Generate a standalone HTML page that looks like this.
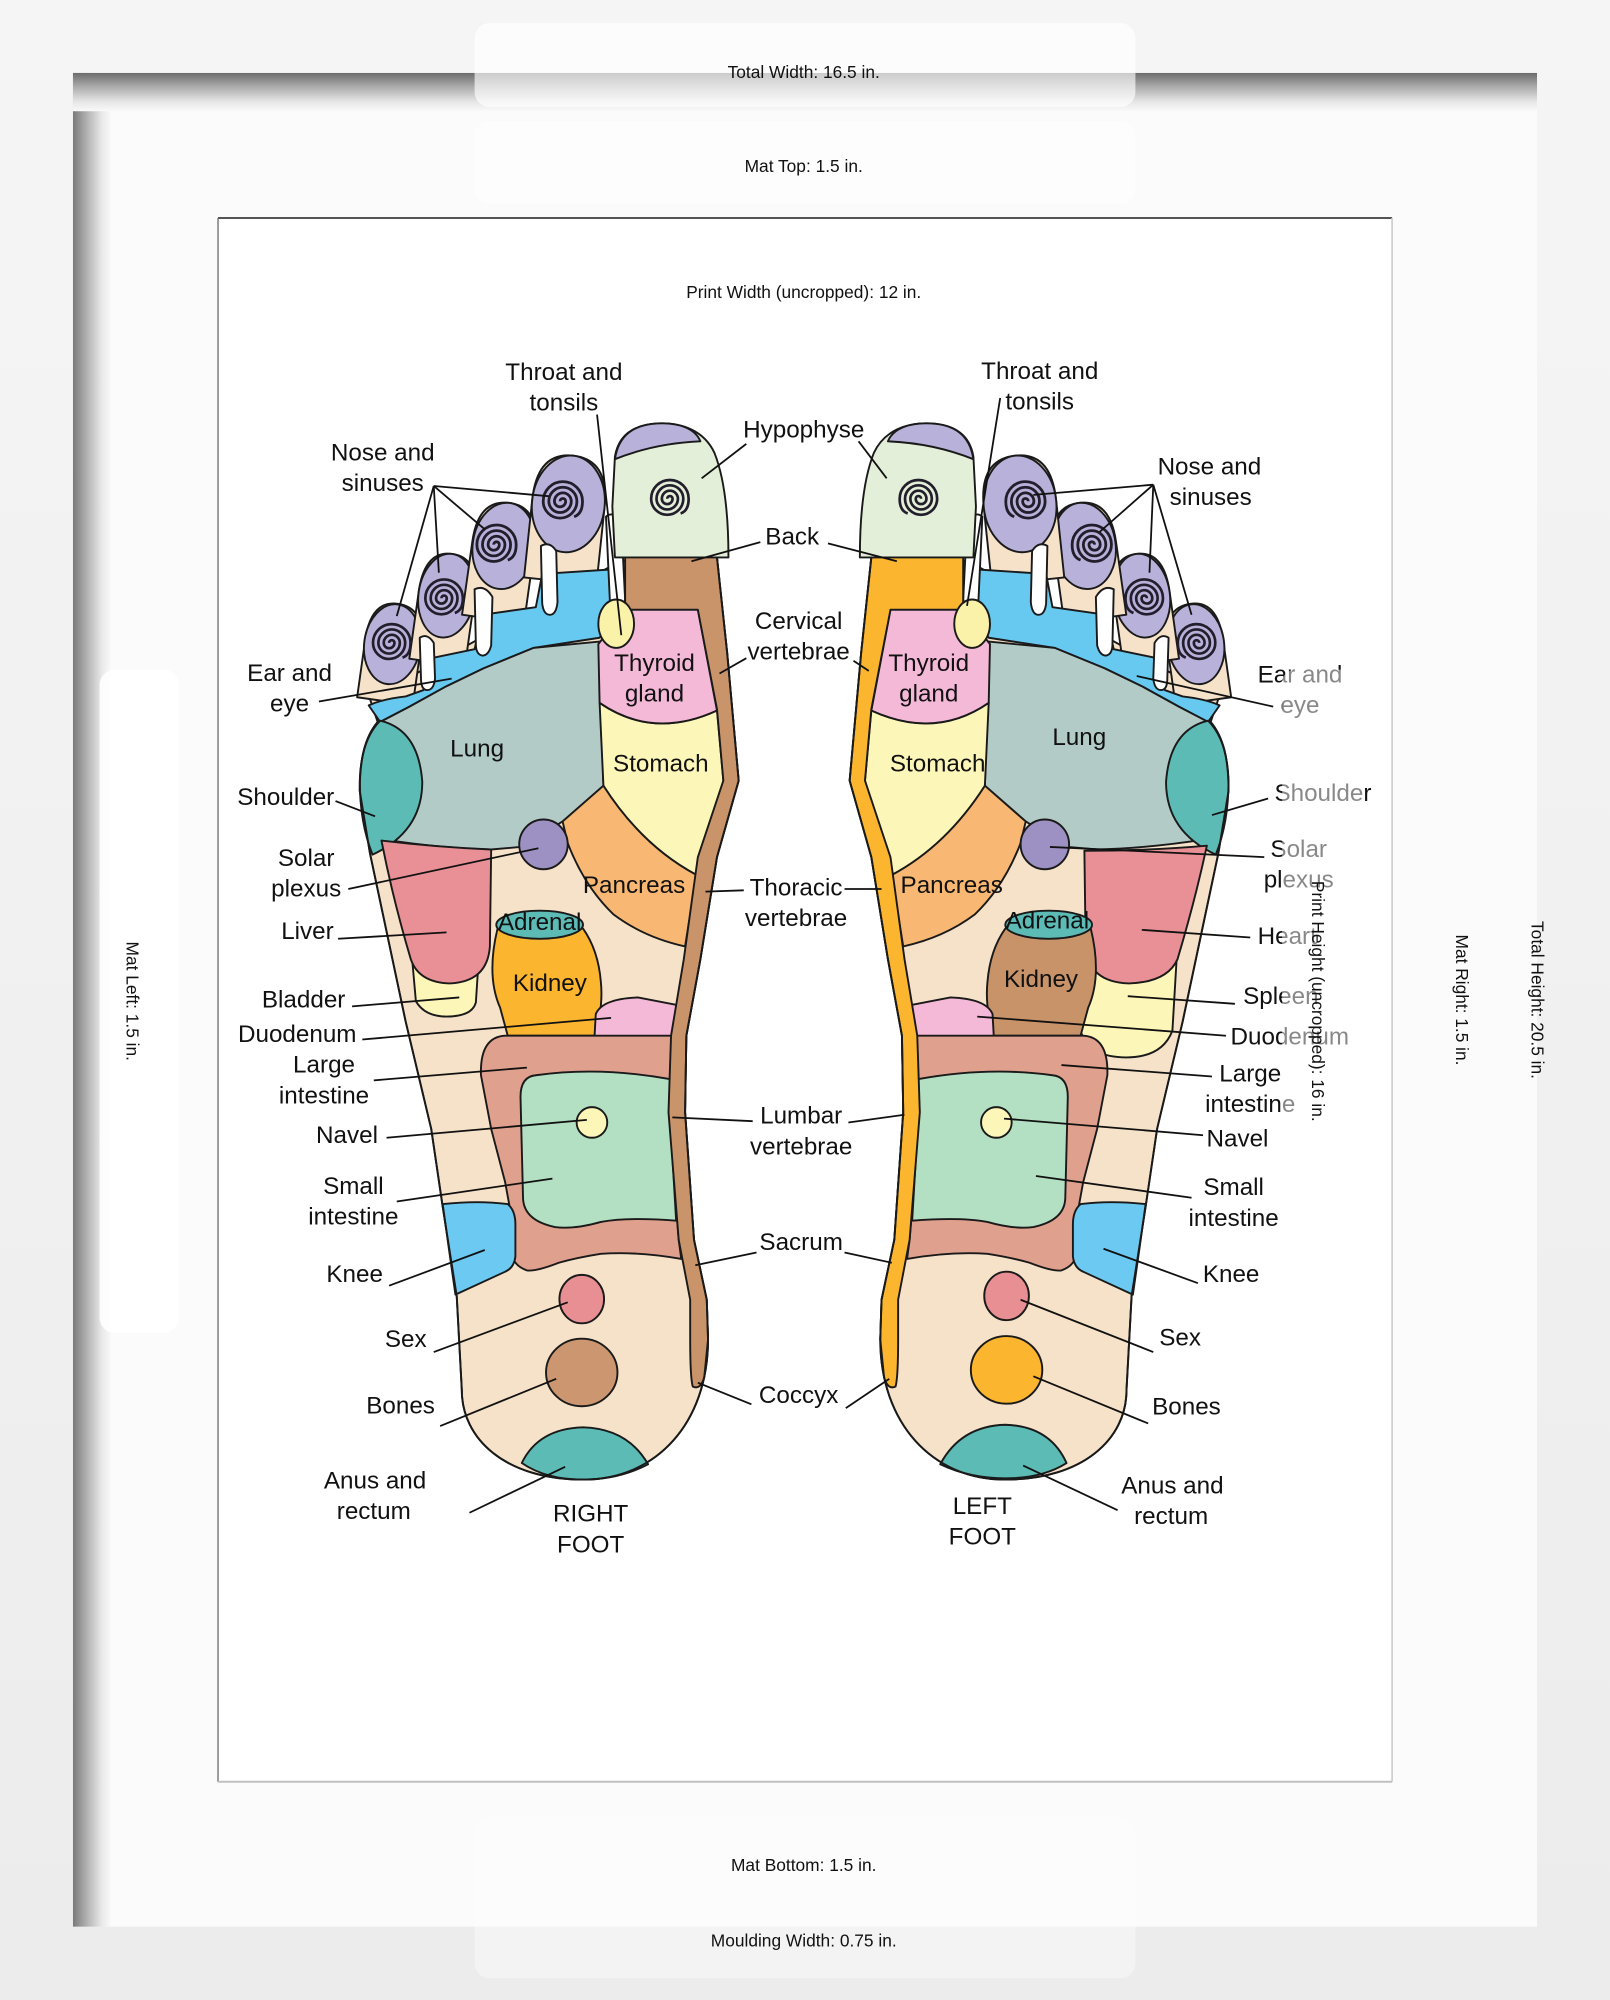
<!DOCTYPE html>
<html><head><meta charset="utf-8">
<style>
html,body{margin:0;padding:0;background:#f2f2f2;}
svg{display:block;}
text{font-family:"Liberation Sans",Arial,sans-serif;fill:#111;}
.lb{font-size:19px;text-anchor:middle;}
.fr{font-size:13.6px;text-anchor:middle;}
</style></head><body>
<svg width="1610" height="2000" viewBox="0 0 1262 1568" preserveAspectRatio="none" xmlns="http://www.w3.org/2000/svg">
<defs>
<linearGradient id="bg" x1="0" y1="0" x2="0" y2="1"><stop offset="0" stop-color="#f5f5f5"/><stop offset="1" stop-color="#ececec"/></linearGradient>
<linearGradient id="tsh" x1="0" y1="0" x2="0" y2="1"><stop offset="0" stop-color="#6c6c6c"/><stop offset="0.35" stop-color="#a9a9a9"/><stop offset="0.75" stop-color="#e6e6e6"/><stop offset="1" stop-color="#fafafa"/></linearGradient>
<linearGradient id="lsh" x1="0" y1="0" x2="1" y2="0"><stop offset="0" stop-color="#7a7a7a"/><stop offset="0.35" stop-color="#b0b0b0"/><stop offset="0.75" stop-color="#e8e8e8"/><stop offset="1" stop-color="#fafafa"/></linearGradient>
<path id="sp" d="M0,0 A2,2 0 0 1 4,0 A4,4 0 0 1 -4,0 A6,6 0 0 1 8,0 A8,8 0 0 1 -8,0 A10,10 0 0 1 12,0 A12,12 0 0 1 -12,0 A14,14 0 0 1 16,0 Q16,9 10,11" fill="none" stroke="#231e2b" stroke-width="2"/>
</defs>

<!-- frame -->
<rect width="1262" height="1568" fill="url(#bg)"/>
<rect x="57.2" y="57.2" width="1147.6" height="1453.3" fill="#fbfbfb"/>
<rect x="57.2" y="57.2" width="30" height="1453.3" fill="url(#lsh)"/>
<rect x="57.2" y="57.2" width="1147.6" height="30" fill="url(#tsh)"/>
<rect x="372" y="18" width="518" height="66" rx="12" fill="#fff" fill-opacity="0.65"/>
<rect x="372" y="95" width="518" height="65" rx="12" fill="#fff" fill-opacity="0.5"/>
<rect x="78" y="525" width="62" height="520" rx="12" fill="#fff" fill-opacity="0.85"/>
<rect x="372" y="1425" width="518" height="126" rx="12" fill="#fff" fill-opacity="0.4"/>

<!-- print area -->
<rect x="170.9" y="170.9" width="920.3" height="1226" fill="#fff"/>
<line x1="170.9" y1="170.9" x2="1091.2" y2="170.9" stroke="#555" stroke-width="1.6"/>
<line x1="170.9" y1="170.9" x2="170.9" y2="1396.9" stroke="#666" stroke-width="1"/>
<line x1="1091.2" y1="170.9" x2="1091.2" y2="1396.9" stroke="#d0d0d0" stroke-width="1.4"/>
<line x1="170.9" y1="1396.9" x2="1091.2" y2="1396.9" stroke="#c0c0c0" stroke-width="1.6"/>

<!-- RIGHT FOOT -->
<g stroke="#1a1a1a" stroke-width="1.5" stroke-linejoin="round">
<path fill="#f6e2c9" d="M290,548 L486,440 L562,437 L570,512 L579,612 L562,672 L549,752 L538,812 L537,872 L544,972 L554,1019 L555,1050 C555,1115 515,1160 457,1160 C396,1160 362,1128 362,1090 L358,1016 L347,946 L338,885 L318,801 L290,669 L282,620 C282,595 286,578 296,566 Z"/>
<g transform="rotate(8 307 505)"><path fill="#f6e2c9" d="M286,550 L286,505 Q286,473 307.5,473 Q330,473 330,505 L330,550 Z"/><ellipse fill="#b8b1d9" cx="307.5" cy="505" rx="22" ry="31.5"/></g>
<g transform="rotate(8 350 467)"><path fill="#f6e2c9" d="M328,520 L328,467 Q328,434 350,434 Q372,434 372,467 L372,520 Z"/><ellipse fill="#b8b1d9" cx="350" cy="467" rx="22" ry="33"/></g>
<g transform="rotate(8 395 428)"><path fill="#f6e2c9" d="M370,486 L370,428 Q370,394 395,394 Q419,394 419,428 L419,486 Z"/><ellipse fill="#b8b1d9" cx="395" cy="428" rx="24.5" ry="34"/></g>
<g transform="rotate(6 445 395)"><path fill="#f6e2c9" d="M417,456 L417,395 Q417,357 445,357 Q474,357 474,395 L474,456 Z"/><ellipse fill="#b8b1d9" cx="445.5" cy="395" rx="28.5" ry="38"/></g>
<path fill="#68c9f0" d="M289,553 Q300,548 318,546 L332,541 L338,516 L372,509 L378,482 L420,476 L425,450 L486,446 L487,472 L470,500 L418,508 L379,524 L350,538 L321,554 L298,566 Z"/>
<path fill="#fff" d="M329,500 Q335,496 340,504 L341,532 Q340,541 335,541 Q330,541 330,532 Z"/>
<path fill="#fff" d="M372,462 Q380,458 386,468 L385,506 Q383,514 378,514 Q373,513 373,505 Z"/>
<path fill="#fff" d="M424,428 Q431,424 436,432 L437,472 Q436,482 431,482 Q426,482 425,473 Z"/>
<path fill="#fff" d="M475,405 Q481,400 487,410 L490,470 Q489,478 484,478 Q479,478 478,470 Z"/>
<path fill="#e3efd8" d="M482,437 L480,397 L482,358 C485,340 498,333 515,332 C535,331 552,338 560,355 C568,375 571,405 571,437 Z"/>
<path fill="#b8b1d9" d="M482,360 C485,340 498,333 515,332 C532,331 545,336 549,346 C525,347 502,352 482,360 Z"/>
<path fill="#b3cbc7" d="M470,503 L418,508 L379,524 L350,538 L321,554 L298,566 L290,600 L292,640 L300,658 Q345,665 385,666 L408,664 L441,644 L473,616 Z"/>
<path fill="#5dbbb6" d="M298,565 Q328,572 331,613 Q331,652 292,670 Q282,645 282,612 Q283,580 298,565 Z"/>
<path fill="#fdf6b9" d="M322,740 L326,785 Q333,797 350,797 Q370,797 373,786 L376,740 Z"/>
<path fill="#e89096" d="M299,659 Q340,664 385,666 L384,742 Q382,770 352,771 Q328,770 322,752 Q308,705 299,659 Z"/>
<path fill="#fdf6b9" d="M470,551 Q512,580 562,557 L567,612 L558,650 L546,686 Q503,663 473,616 Z"/>
<path fill="#f5b9d8" d="M490,478 L547,478 L562,557 Q512,580 470,551 L469,505 Z"/>
<path fill="#f8b873" d="M441,644 L473,616 Q503,663 546,686 L537,742 Q505,735 481,717 Q458,695 445,661 Z"/>
<ellipse fill="#9d91c3" cx="426" cy="662" rx="19" ry="19.5"/>
<path fill="#fbb52e" d="M390,728 Q381,765 392,790 L398,812 L466,812 Q473,790 471,770 Q469,745 457,728 Z"/>
<ellipse fill="#5dbbb6" cx="423" cy="725" rx="34" ry="11"/>
<path fill="#f5b9d8" d="M466,813 L467,795 Q472,783 500,782 L531,788 L527,813 Z"/>
<path fill="#e0a08e" d="M396,812 L527,812 L524,872 L532,972 L534,987 Q500,981 471,983 Q452,986 438,990 Q420,997 413,996 Q402,992 401,982 L402,960 L396,927 L385,885 L377,843 Q376,813 396,812 Z"/>
<path fill="#b3dfc3" d="M420,843 Q470,836 525,846 L525,872 L530,957 Q492,954 471,958 Q450,964 435,962 Q411,957 410,940 L408,860 Q408,844 420,843 Z"/>
<circle fill="#fdf6b9" cx="464" cy="880" r="12"/>
<path fill="#6ccaf2" d="M347,944 Q375,941 398,944 Q404,949 404,960 L404,985 Q403,994 396,997 L357,1015 L352,980 Z"/>
<ellipse fill="#e88f94" cx="456" cy="1018.5" rx="17.5" ry="19"/>
<ellipse fill="#cc9670" cx="456" cy="1076" rx="28" ry="26.5"/>
<path fill="#5dbbb6" d="M409,1147 Q422,1120 457,1119 Q492,1120 508,1148 Q485,1160 457,1160 Q428,1160 409,1147 Z"/>
<path fill="#c99469" d="M490,437 L562,437 L570,512 L579,612 L562,672 L549,752 L538,812 L537,872 L544,972 L554,1019 L555,1050 L552,1080 Q549,1090 543,1087 Q541,1080 541,1050 L541,1019 L532,972 L524,872 L526,812 L536,752 L547,672 L567,612 L562,556 L547,478 L490,478 Z"/>
<ellipse fill="#fbf2a9" cx="483" cy="489" rx="14" ry="19"/>
<path fill="none" d="M562,437 L570,512 L579,612 L562,672 L549,752 L538,812 L537,872 L544,972 L554,1019 L555,1050 C555,1115 515,1160 457,1160 C396,1160 362,1128 362,1090 L358,1016 L347,946 L338,885 L318,801 L290,669 L282,620 C282,595 286,578 296,566"/>
<use href="#sp" transform="translate(523,391) scale(1.05)"/>
<use href="#sp" transform="translate(439,393) scale(1.1)"/>
<use href="#sp" transform="translate(387,427) scale(1.1)"/>
<use href="#sp" transform="translate(346,469) scale(1.05)"/>
<use href="#sp" transform="translate(305,504) scale(1.05)"/>
</g>

<!-- LEFT FOOT (mirrored) -->
<g transform="matrix(-1,0,0,1,1245,0)" stroke="#1a1a1a" stroke-width="1.5" stroke-linejoin="round">
<path fill="#f6e2c9" d="M290,548 L486,440 L562,437 L570,512 L579,612 L562,672 L549,752 L538,812 L537,872 L544,972 L554,1019 L555,1050 C555,1115 515,1160 457,1160 C396,1160 362,1128 362,1090 L358,1016 L347,946 L338,885 L318,801 L290,669 L282,620 C282,595 286,578 296,566 Z"/>
<g transform="rotate(8 307 505)"><path fill="#f6e2c9" d="M286,550 L286,505 Q286,473 307.5,473 Q330,473 330,505 L330,550 Z"/><ellipse fill="#b8b1d9" cx="307.5" cy="505" rx="22" ry="31.5"/></g>
<g transform="rotate(8 350 467)"><path fill="#f6e2c9" d="M328,520 L328,467 Q328,434 350,434 Q372,434 372,467 L372,520 Z"/><ellipse fill="#b8b1d9" cx="350" cy="467" rx="22" ry="33"/></g>
<g transform="rotate(8 395 428)"><path fill="#f6e2c9" d="M370,486 L370,428 Q370,394 395,394 Q419,394 419,428 L419,486 Z"/><ellipse fill="#b8b1d9" cx="395" cy="428" rx="24.5" ry="34"/></g>
<g transform="rotate(6 445 395)"><path fill="#f6e2c9" d="M417,456 L417,395 Q417,357 445,357 Q474,357 474,395 L474,456 Z"/><ellipse fill="#b8b1d9" cx="445.5" cy="395" rx="28.5" ry="38"/></g>
<path fill="#68c9f0" d="M289,553 Q300,548 318,546 L332,541 L338,516 L372,509 L378,482 L420,476 L425,450 L486,446 L487,472 L470,500 L418,508 L379,524 L350,538 L321,554 L298,566 Z"/>
<path fill="#fff" d="M329,500 Q335,496 340,504 L341,532 Q340,541 335,541 Q330,541 330,532 Z"/>
<path fill="#fff" d="M372,462 Q380,458 386,468 L385,506 Q383,514 378,514 Q373,513 373,505 Z"/>
<path fill="#fff" d="M424,428 Q431,424 436,432 L437,472 Q436,482 431,482 Q426,482 425,473 Z"/>
<path fill="#fff" d="M475,405 Q481,400 487,410 L490,470 Q489,478 484,478 Q479,478 478,470 Z"/>
<path fill="#e3efd8" d="M482,437 L480,397 L482,358 C485,340 498,333 515,332 C535,331 552,338 560,355 C568,375 571,405 571,437 Z"/>
<path fill="#b8b1d9" d="M482,360 C485,340 498,333 515,332 C532,331 545,336 549,346 C525,347 502,352 482,360 Z"/>
<path fill="#b3cbc7" d="M470,503 L418,508 L379,524 L350,538 L321,554 L298,566 L290,600 L292,640 L300,658 Q345,665 385,666 L408,664 L441,644 L473,616 Z"/>
<path fill="#5dbbb6" d="M298,565 Q328,572 331,613 Q331,652 292,670 Q282,645 282,612 Q283,580 298,565 Z"/>
<path fill="#fdf6b9" d="M322,740 L326,808 Q334,829 362,829 Q392,829 398,808 L398,740 Z"/>
<path fill="#e89096" d="M299,663 Q345,667 395,667 L394,742 Q392,770 360,771 Q330,770 322,752 Q308,705 299,663 Z"/>
<path fill="#fdf6b9" d="M470,551 Q512,580 562,557 L567,612 L558,650 L546,686 Q503,663 473,616 Z"/>
<path fill="#f5b9d8" d="M490,478 L547,478 L562,557 Q512,580 470,551 L469,505 Z"/>
<path fill="#f8b873" d="M441,644 L473,616 Q503,663 546,686 L537,742 Q505,735 481,717 Q458,695 445,661 Z"/>
<ellipse fill="#9d91c3" cx="426" cy="662" rx="19" ry="19.5"/>
<path fill="#c9936a" d="M390,728 Q381,765 392,790 L398,812 L466,812 Q473,790 471,770 Q469,745 457,728 Z"/>
<ellipse fill="#5dbbb6" cx="423" cy="725" rx="34" ry="11"/>
<path fill="#f5b9d8" d="M466,813 L467,795 Q472,783 500,782 L531,788 L527,813 Z"/>
<path fill="#e0a08e" d="M396,812 L527,812 L524,872 L532,972 L534,987 Q500,981 471,983 Q452,986 438,990 Q420,997 413,996 Q402,992 401,982 L402,960 L396,927 L385,885 L377,843 Q376,813 396,812 Z"/>
<path fill="#b3dfc3" d="M420,843 Q470,836 525,846 L525,872 L530,957 Q492,954 471,958 Q450,964 435,962 Q411,957 410,940 L408,860 Q408,844 420,843 Z"/>
<circle fill="#fdf6b9" cx="464" cy="880" r="12"/>
<path fill="#6ccaf2" d="M347,944 Q375,941 398,944 Q404,949 404,960 L404,985 Q403,994 396,997 L357,1015 L352,980 Z"/>
<ellipse fill="#e88f94" cx="456" cy="1016" rx="17.5" ry="19"/>
<ellipse fill="#fbb52e" cx="456" cy="1074" rx="28" ry="26.5"/>
<path fill="#5dbbb6" d="M409,1147 Q422,1118 457,1117 Q492,1118 508,1148 Q485,1159 457,1159 Q428,1159 409,1147 Z"/>
<path fill="#fbb52e" d="M490,437 L562,437 L570,512 L579,612 L562,672 L549,752 L538,812 L537,872 L544,972 L554,1019 L555,1050 L552,1080 Q549,1090 543,1087 Q541,1080 541,1050 L541,1019 L532,972 L524,872 L526,812 L536,752 L547,672 L567,612 L562,556 L547,478 L490,478 Z"/>
<ellipse fill="#fbf2a9" cx="483" cy="489" rx="14" ry="19"/>
<path fill="none" d="M562,437 L570,512 L579,612 L562,672 L549,752 L538,812 L537,872 L544,972 L554,1019 L555,1050 C555,1115 515,1160 457,1160 C396,1160 362,1128 362,1090 L358,1016 L347,946 L338,885 L318,801 L290,669 L282,620 C282,595 286,578 296,566"/>
<use href="#sp" transform="translate(523,391) scale(1.05)"/>
<use href="#sp" transform="translate(439,393) scale(1.1)"/>
<use href="#sp" transform="translate(387,427) scale(1.1)"/>
<use href="#sp" transform="translate(346,469) scale(1.05)"/>
<use href="#sp" transform="translate(305,504) scale(1.05)"/>
</g>

<!-- connectors -->
<g stroke="#111" stroke-width="1.4" fill="none">
<line x1="468" y1="325" x2="487" y2="498"/>
<line x1="340" y1="381" x2="430" y2="389"/>
<line x1="340" y1="381" x2="380" y2="415"/>
<line x1="340" y1="381" x2="344" y2="449"/>
<line x1="340" y1="381" x2="311" y2="483"/>
<line x1="585" y1="348" x2="550" y2="375"/>
<line x1="596" y1="425" x2="542" y2="440"/>
<line x1="585" y1="516" x2="564" y2="528"/>
<line x1="583" y1="698" x2="553" y2="699"/>
<line x1="590" y1="879" x2="527" y2="876"/>
<line x1="593" y1="982" x2="545" y2="992"/>
<line x1="589" y1="1101" x2="547" y2="1084"/>
<line x1="250" y1="550" x2="354" y2="532"/>
<line x1="263" y1="628" x2="294" y2="640"/>
<line x1="273" y1="697" x2="422" y2="665"/>
<line x1="265" y1="736" x2="350" y2="731"/>
<line x1="276" y1="789" x2="360" y2="782"/>
<line x1="284" y1="815" x2="479" y2="798"/>
<line x1="293" y1="847" x2="413" y2="837"/>
<line x1="303" y1="892" x2="460" y2="878"/>
<line x1="311" y1="942" x2="433" y2="924"/>
<line x1="305" y1="1008" x2="380" y2="980"/>
<line x1="340" y1="1060" x2="445" y2="1021"/>
<line x1="345" y1="1118" x2="436" y2="1081"/>
<line x1="368" y1="1186" x2="443" y2="1150"/>

<line x1="784" y1="312" x2="758" y2="475"/>
<line x1="904" y1="380" x2="810" y2="388"/>
<line x1="904" y1="380" x2="862" y2="417"/>
<line x1="904" y1="380" x2="901" y2="449"/>
<line x1="904" y1="380" x2="934" y2="482"/>
<line x1="673" y1="346" x2="695" y2="375"/>
<line x1="649" y1="426" x2="703" y2="440"/>
<line x1="669" y1="518" x2="681" y2="526"/>
<line x1="662" y1="697" x2="691" y2="697"/>
<line x1="665" y1="880" x2="709" y2="874"/>
<line x1="662" y1="982" x2="699" y2="990"/>
<line x1="663" y1="1104" x2="697" y2="1081"/>
<line x1="998" y1="554" x2="891" y2="530"/>
<line x1="994" y1="626" x2="950" y2="639"/>
<line x1="991" y1="672" x2="823" y2="664"/>
<line x1="980" y1="735" x2="895" y2="729"/>
<line x1="968" y1="787" x2="884" y2="781"/>
<line x1="961" y1="812" x2="766" y2="797"/>
<line x1="950" y1="844" x2="832" y2="835"/>
<line x1="943" y1="890" x2="787" y2="877"/>
<line x1="934" y1="939" x2="812" y2="922"/>
<line x1="939" y1="1006" x2="865" y2="979"/>
<line x1="904" y1="1060" x2="800" y2="1019"/>
<line x1="900" y1="1116" x2="810" y2="1079"/>
<line x1="876" y1="1184" x2="802" y2="1149"/>
</g>

<!-- labels -->
<g class="lb">
<text class="lb" x="442" y="298">Throat and</text>
<text class="lb" x="442" y="322">tonsils</text>
<text class="lb" x="300" y="361">Nose and</text>
<text class="lb" x="300" y="385">sinuses</text>
<text class="lb" x="630" y="343">Hypophyse</text>
<text class="lb" x="621" y="427">Back</text>
<text class="lb" x="626" y="493">Cervical</text>
<text class="lb" x="626" y="517">vertebrae</text>
<text class="lb" x="227" y="534">Ear and</text>
<text class="lb" x="227" y="558">eye</text>
<text class="lb" x="513" y="526">Thyroid</text>
<text class="lb" x="513" y="550">gland</text>
<text class="lb" x="374" y="593">Lung</text>
<text class="lb" x="518" y="605">Stomach</text>
<text class="lb" x="224" y="631">Shoulder</text>
<text class="lb" x="240" y="679">Solar</text>
<text class="lb" x="240" y="703">plexus</text>
<text class="lb" x="497" y="700">Pancreas</text>
<text class="lb" x="624" y="702">Thoracic</text>
<text class="lb" x="624" y="726">vertebrae</text>
<text class="lb" x="423" y="729">Adrenal</text>
<text class="lb" x="241" y="736">Liver</text>
<text class="lb" x="431" y="777">Kidney</text>
<text class="lb" x="238" y="790">Bladder</text>
<text class="lb" x="233" y="817">Duodenum</text>
<text class="lb" x="254" y="841">Large</text>
<text class="lb" x="254" y="865">intestine</text>
<text class="lb" x="628" y="881">Lumbar</text>
<text class="lb" x="628" y="905">vertebrae</text>
<text class="lb" x="272" y="896">Navel</text>
<text class="lb" x="277" y="936">Small</text>
<text class="lb" x="277" y="960">intestine</text>
<text class="lb" x="628" y="980">Sacrum</text>
<text class="lb" x="278" y="1005">Knee</text>
<text class="lb" x="318" y="1056">Sex</text>
<text class="lb" x="626" y="1100">Coccyx</text>
<text class="lb" x="314" y="1108">Bones</text>
<text class="lb" x="294" y="1167">Anus and</text>
<text class="lb" x="293" y="1191">rectum</text>
<text class="lb" x="463" y="1193">RIGHT</text>
<text class="lb" x="463" y="1217">FOOT</text>

<text class="lb" x="815" y="297">Throat and</text>
<text class="lb" x="815" y="321">tonsils</text>
<text class="lb" x="948" y="372">Nose and</text>
<text class="lb" x="949" y="396">sinuses</text>
<text class="lb" x="728" y="526">Thyroid</text>
<text class="lb" x="728" y="550">gland</text>
<text class="lb" x="1019" y="535">Ear and</text>
<text class="lb" x="1019" y="559">eye</text>
<text class="lb" x="846" y="584">Lung</text>
<text class="lb" x="735" y="605">Stomach</text>
<text class="lb" x="1037" y="628">Shoulder</text>
<text class="lb" x="1018" y="672">Solar</text>
<text class="lb" x="1018" y="696">plexus</text>
<text class="lb" x="746" y="700">Pancreas</text>
<text class="lb" x="821" y="728">Adrenal</text>
<text class="lb" x="1009" y="740">Heart</text>
<text class="lb" x="816" y="774">Kidney</text>
<text class="lb" x="1004" y="787">Spleen</text>
<text class="lb" x="1011" y="819">Duodenum</text>
<text class="lb" x="980" y="848">Large</text>
<text class="lb" x="980" y="872">intestine</text>
<text class="lb" x="970" y="899">Navel</text>
<text class="lb" x="967" y="937">Small</text>
<text class="lb" x="967" y="961">intestine</text>
<text class="lb" x="965" y="1005">Knee</text>
<text class="lb" x="925" y="1055">Sex</text>
<text class="lb" x="930" y="1109">Bones</text>
<text class="lb" x="919" y="1171">Anus and</text>
<text class="lb" x="918" y="1195">rectum</text>
<text class="lb" x="770" y="1187">LEFT</text>
<text class="lb" x="770" y="1211">FOOT</text>
</g>

<!-- print height overlay box -->
<rect x="1005" y="525" width="63" height="520" rx="10" fill="#fff" fill-opacity="0.5"/>

<!-- frame labels -->
<text class="fr" x="630" y="61">Total Width: 16.5 in.</text>
<text class="fr" x="630" y="135">Mat Top: 1.5 in.</text>
<text class="fr" x="630" y="233.5">Print Width (uncropped): 12 in.</text>
<text class="fr" x="630" y="1467">Mat Bottom: 1.5 in.</text>
<text class="fr" x="630" y="1526">Moulding Width: 0.75 in.</text>
<text class="fr" transform="translate(104,785) rotate(90)" dominant-baseline="central">Mat Left: 1.5 in.</text>
<text class="fr" transform="translate(1146,784) rotate(90)" dominant-baseline="central">Mat Right: 1.5 in.</text>
<text class="fr" transform="translate(1205,784) rotate(90)" dominant-baseline="central">Total Height: 20.5 in.</text>
<text class="fr" transform="translate(1033,785) rotate(90)" dominant-baseline="central">Print Height (uncropped): 16 in.</text>
</svg>
</body></html>
